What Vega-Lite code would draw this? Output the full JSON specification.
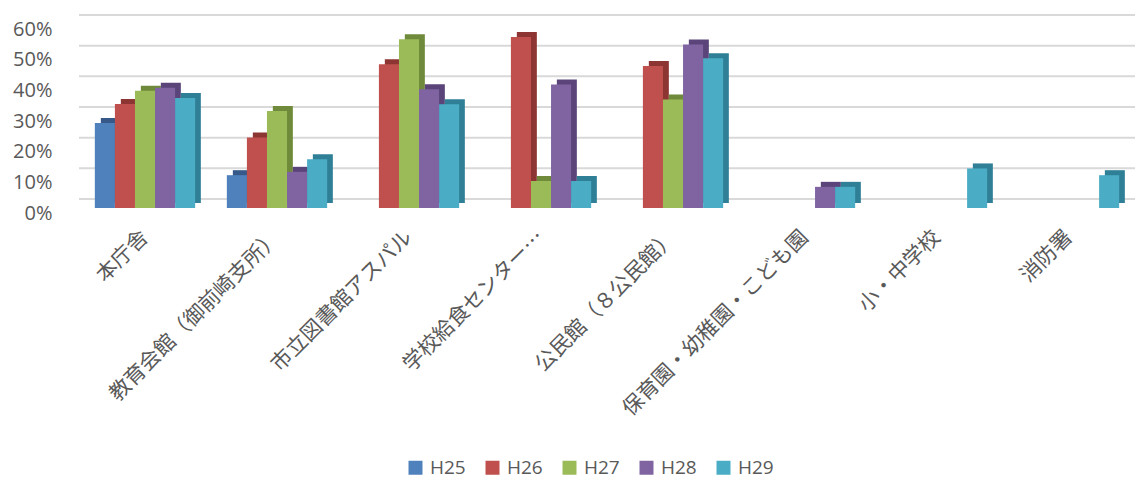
{
  "$schema": "https://vega.github.io/schema/vega-lite/v6.json",
  "width": 1056,
  "height": 184,
  "autosize": {"type": "none"},
  "padding": {"left": 79, "top": 24, "right": 3, "bottom": 273},
  "background": "white",
  "config": {
    "view": {"stroke": null},
    "font": "Noto Sans CJK JP",
    "axisY": {"labelOverlap": false, "labelFontSize": 20, "labelColor": "#595959", "labelFont": "Open Sans",
              "grid": false, "domain": false, "ticks": false, "labelPadding": 27, "labelOffset": 5, "title": null},
    "axisX": {"grid": false, "domain": false, "ticks": false, "title": null}
  },
  "datasets": {
    "bars": [
      {"facility": "本庁舎", "year": "H25", "rate": 0.277},
      {"facility": "本庁舎", "year": "H26", "rate": 0.339},
      {"facility": "本庁舎", "year": "H27", "rate": 0.382},
      {"facility": "本庁舎", "year": "H28", "rate": 0.392},
      {"facility": "本庁舎", "year": "H29", "rate": 0.359},
      {"facility": "教育会館（御前崎支所）", "year": "H25", "rate": 0.107},
      {"facility": "教育会館（御前崎支所）", "year": "H26", "rate": 0.230},
      {"facility": "教育会館（御前崎支所）", "year": "H27", "rate": 0.316},
      {"facility": "教育会館（御前崎支所）", "year": "H28", "rate": 0.118},
      {"facility": "教育会館（御前崎支所）", "year": "H29", "rate": 0.159},
      {"facility": "市立図書館アスパル", "year": "H26", "rate": 0.469},
      {"facility": "市立図書館アスパル", "year": "H27", "rate": 0.550},
      {"facility": "市立図書館アスパル", "year": "H28", "rate": 0.387},
      {"facility": "市立図書館アスパル", "year": "H29", "rate": 0.338},
      {"facility": "学校給食センター…", "year": "H26", "rate": 0.558},
      {"facility": "学校給食センター…", "year": "H27", "rate": 0.088},
      {"facility": "学校給食センター…", "year": "H28", "rate": 0.403},
      {"facility": "学校給食センター…", "year": "H29", "rate": 0.088},
      {"facility": "公民館（８公民館）", "year": "H26", "rate": 0.463},
      {"facility": "公民館（８公民館）", "year": "H27", "rate": 0.354},
      {"facility": "公民館（８公民館）", "year": "H28", "rate": 0.533},
      {"facility": "公民館（８公民館）", "year": "H29", "rate": 0.488},
      {"facility": "保育園・幼稚園・こども園", "year": "H28", "rate": 0.069},
      {"facility": "保育園・幼稚園・こども園", "year": "H29", "rate": 0.069},
      {"facility": "小・中学校", "year": "H29", "rate": 0.129},
      {"facility": "消防署", "year": "H29", "rate": 0.107}
    ],
    "grid": [
      {"v": 0}, {"v": 0.1}, {"v": 0.2}, {"v": 0.3}, {"v": 0.4}, {"v": 0.5}, {"v": 0.6}
    ]
  },
  "layer": [
    {
      "data": {"name": "grid"},
      "mark": {"type": "rule", "color": "#d9d9d9", "strokeWidth": 2, "yOffset": -9},
      "encoding": {
        "y": {"field": "v", "type": "quantitative", "scale": {"domain": [0, 0.6]},
              "axis": {"format": ".0%", "values": [0, 0.1, 0.2, 0.3, 0.4, 0.5, 0.6], "labelOverlap": false}}
      }
    },
    {
      "data": {"name": "bars"},
      "mark": {"type": "bar", "yOffset": -5},
      "encoding": {
        "x": {"field": "facility", "type": "nominal", "sort": null,
              "scale": {"paddingInner": 0.24, "paddingOuter": 0.12}},
        "xOffset": {"field": "year", "type": "nominal", "scale": {"range": [6, 106], "paddingInner": 0, "paddingOuter": 0}},
        "y": {"field": "rate", "type": "quantitative", "scale": {"domain": [0, 0.6]},
              "axis": {"format": ".0%", "values": [0, 0.1, 0.2, 0.3, 0.4, 0.5, 0.6], "labelOverlap": false}},
        "color": {"field": "year", "type": "nominal", "legend": null,
                  "scale": {"domain": ["H25", "H26", "H27", "H28", "H29"],
                            "range": ["#36598a", "#8c3533", "#6f8a3a", "#5a4479", "#2f7f96"]}}
      }
    },
    {
      "data": {"name": "bars"},
      "mark": {"type": "bar"},
      "encoding": {
        "x": {"field": "facility", "type": "nominal", "sort": null,
              "scale": {"paddingInner": 0.24, "paddingOuter": 0.12},
              "axis": {"labelAngle": -45, "labelAlign": "right", "labelBaseline": "middle",
                       "labelFontSize": 21, "labelColor": "#595959", "labelPadding": 26, "labelLimit": 0,
                       "labelFont": "Noto Sans CJK JP"}},
        "xOffset": {"field": "year", "type": "nominal", "scale": {"paddingInner": 0, "paddingOuter": 0}},
        "y": {"field": "rate", "type": "quantitative", "scale": {"domain": [0, 0.6]},
              "axis": {"format": ".0%", "values": [0, 0.1, 0.2, 0.3, 0.4, 0.5, 0.6], "labelOverlap": false}},
        "color": {"field": "year", "type": "nominal",
                  "scale": {"domain": ["H25", "H26", "H27", "H28", "H29"],
                            "range": ["#4f81bd", "#c0504d", "#9bbb59", "#8064a2", "#4bacc6"]},
                  "legend": {"title": null, "orient": "none", "direction": "horizontal",
                             "legendX": 327, "legendY": 434, "symbolType": "square", "symbolSize": 196,
                             "symbolStrokeWidth": 0, "labelFontSize": 19, "labelColor": "#595959",
                             "labelFont": "Open Sans", "columnPadding": 17, "labelOffset": 5}}
      }
    }
  ],
  "resolve": {"scale": {"color": "independent", "xOffset": "independent"}}
}
